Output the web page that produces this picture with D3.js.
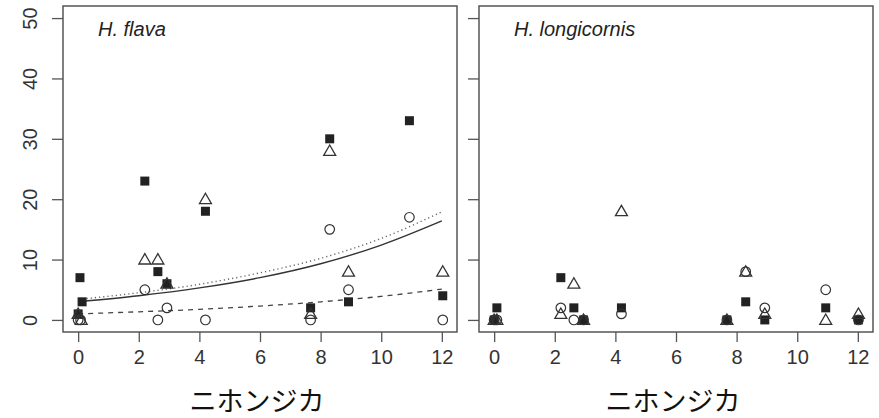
<!DOCTYPE html>
<html>
<head>
<meta charset="utf-8">
<script src="https://cdn.jsdelivr.net/npm/d3@7"></script>
<style>
  body { margin: 0; background: #fff; }
  svg text { font-family: "Liberation Sans", Arial, sans-serif; }
</style>
</head>
<body>
<div id="chart"></div>
<script>
width = 879
height = 418

// tick labels
let xTicks = [0, 2, 4, 6, 8, 10, 12]
let yTicks = [0, 10, 20, 30, 40, 50]
let xTitle = "ニホンジカ"

// H. flava points [x, y]
let flavaSquares = [[0, 1], [0.06, 7], [0.13, 3], [2.2, 23], [2.63, 8], [2.93, 6], [4.2, 18], [7.67, 2], [8.3, 30], [8.92, 3], [10.93, 33], [12.03, 4]]
let flavaTriangles = [[0, 1], [0.1, 0], [2.2, 10], [2.63, 10], [2.93, 6], [4.2, 20], [7.67, 1], [8.3, 28], [8.92, 8], [12.03, 8]]
let flavaCircles = [[0, 0], [0.08, 0], [2.2, 5], [2.63, 0], [2.93, 2], [4.2, 0], [7.67, 0], [8.3, 15], [8.92, 5], [10.93, 17], [12.03, 0]]

// fitted curves for H. flava, read at the x ticks
let curveX = [0, 2, 4, 6, 8, 10, 12]
let solidFit = [3.0, 4.0, 5.3, 7.0, 9.3, 12.4, 16.4]
let dottedFit = [3.4, 4.5, 5.9, 7.8, 10.2, 13.5, 17.9]
let dashedFit = [1.0, 1.35, 1.75, 2.3, 3.0, 3.9, 5.1]

// H. longicornis points [x, y]
let longiSquares = [[0, 0], [0.09, 2], [2.2, 7], [2.63, 2], [2.95, 0], [4.2, 2], [7.68, 0], [8.3, 3], [8.93, 0], [10.94, 2], [12.02, 0]]
let longiTriangles = [[0, 0], [0.09, 0], [2.2, 1], [2.63, 6], [2.95, 0], [4.2, 18], [7.68, 0], [8.3, 8], [8.93, 1], [10.94, 0], [12.02, 1]]
let longiCircles = [[0, 0], [0.09, 0], [2.2, 2], [2.63, 0], [2.95, 0], [4.2, 1], [7.68, 0], [8.3, 8], [8.93, 2], [10.94, 5], [12.02, 0]]

let panels = [
  { name: "H. flava", left: 63, right: 457, yLabels: true,
    squares: flavaSquares, triangles: flavaTriangles, circles: flavaCircles,
    fits: [
      { values: solidFit, dash: null, color: "#333", w: 1.4 },
      { values: dottedFit, dash: "1.2,3", color: "#666", w: 1.4 },
      { values: dashedFit, dash: "5,5", color: "#444", w: 1.3 }
    ] },
  { name: "H. longicornis", left: 479, right: 873, yLabels: false,
    squares: longiSquares, triangles: longiTriangles, circles: longiCircles,
    fits: [] }
]

let plotTop = 6, plotBottom = 332

let svg = d3.select("#chart")
.append("svg")
.attr("width", width)
.attr("height", height)

let y = d3.scaleLinear().domain([-2, 52]).range([plotBottom, plotTop])

panels.forEach(p => {
  let x = d3.scaleLinear().domain([-0.5, 12.5]).range([p.left, p.right])
  let g = svg.append("g")

  // box
  g.append("rect")
    .attr("x", p.left)
    .attr("y", plotTop)
    .attr("width", p.right - p.left)
    .attr("height", plotBottom - plotTop)
    .attr("fill", "none")
    .attr("stroke", "#555")
    .attr("stroke-width", 1.5)

  // y axis
  let yAxis = d3.axisLeft(y).tickValues(yTicks).tickSize(11).tickPadding(8)
    .tickFormat(p.yLabels ? d3.format("d") : "")
  let ya = g.append("g").attr("transform", "translate(" + p.left + ",0)").call(yAxis)
  ya.select(".domain").remove()
  ya.selectAll("line").attr("stroke", "#555").attr("stroke-width", 1.3)
  ya.selectAll("text")
    .attr("font-size", 20)
    .attr("fill", "#333")
    .attr("x", null)
    .attr("dy", null)
    .attr("text-anchor", "middle")
    .attr("dominant-baseline", "central")
    .attr("transform", "translate(-33,0) rotate(-90)")

  // x axis
  let xAxis = d3.axisBottom(x).tickValues(xTicks).tickSize(10).tickPadding(8)
  let xa = g.append("g").attr("transform", "translate(0," + plotBottom + ")").call(xAxis)
  xa.select(".domain").remove()
  xa.selectAll("line").attr("stroke", "#555").attr("stroke-width", 1.3)
  xa.selectAll("text").attr("font-size", 20).attr("fill", "#333")

  // x title
  g.append("text")
    .attr("x", (p.left + p.right) / 2 - 3)
    .attr("y", 411)
    .attr("text-anchor", "middle")
    .attr("font-size", 27)
    .style("font-family", "'Noto Sans CJK JP', sans-serif")
    .attr("fill", "#111")
    .text(xTitle)

  // panel name
  g.append("text")
    .attr("x", p.left + 35)
    .attr("y", 36)
    .attr("font-size", 20)
    .attr("font-style", "italic")
    .attr("fill", "#222")
    .text(p.name)

  // fitted curves
  p.fits.forEach(f => {
    let line = d3.line()
      .x((d, i) => x(curveX[i]))
      .y(d => y(d))
      .curve(d3.curveMonotoneX)
    g.append("path")
      .attr("d", line(f.values))
      .attr("fill", "none")
      .attr("stroke", f.color)
      .attr("stroke-width", f.w)
      .attr("stroke-dasharray", f.dash)
  })

  // points
  g.selectAll(".sq").data(p.squares).join("rect")
    .attr("class", "sq")
    .attr("x", d => x(d[0]) - 4.5)
    .attr("y", d => y(d[1]) - 4.5)
    .attr("width", 9)
    .attr("height", 9)
    .attr("fill", "#222")

  let tri = d3.symbol().type(d3.symbolTriangle).size(62)
  g.selectAll(".tri").data(p.triangles).join("path")
    .attr("class", "tri")
    .attr("d", tri)
    .attr("transform", d => "translate(" + x(d[0]) + "," + (y(d[1]) + 1) + ")")
    .attr("fill", "none")
    .attr("stroke", "#333")
    .attr("stroke-width", 1.3)

  g.selectAll(".ci").data(p.circles).join("circle")
    .attr("class", "ci")
    .attr("cx", d => x(d[0]))
    .attr("cy", d => y(d[1]))
    .attr("r", 4.8)
    .attr("fill", "none")
    .attr("stroke", "#333")
    .attr("stroke-width", 1.2)
})
</script>
</body>
</html>
